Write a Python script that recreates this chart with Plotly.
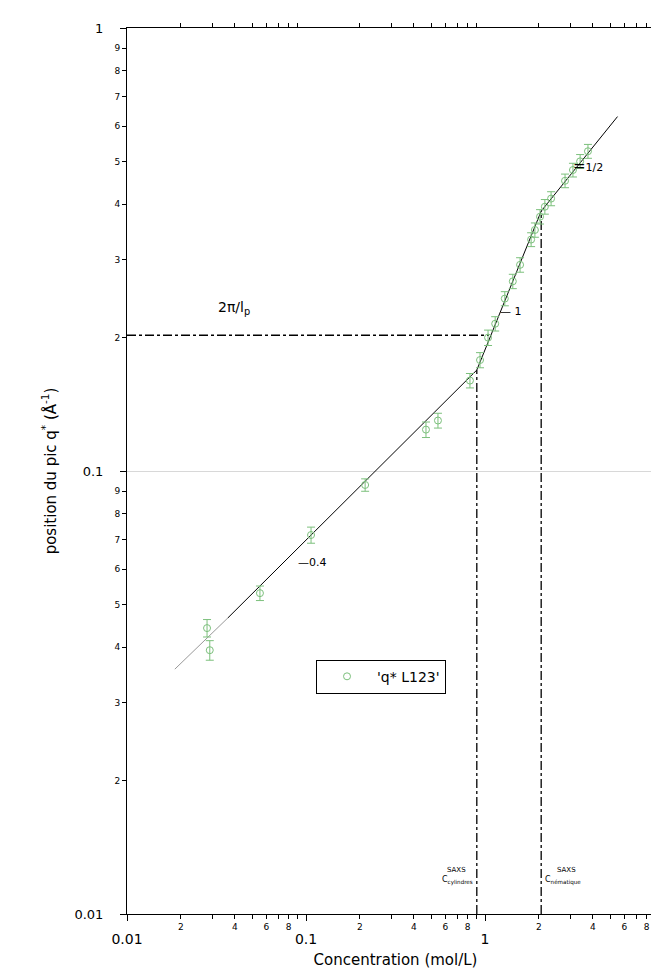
import math
import plotly.graph_objects as go

# ---- data ----
conc = [0.028, 0.029, 0.0553, 0.1067, 0.214, 0.468, 0.546, 0.824, 0.938, 1.04, 1.14,
        1.29, 1.43, 1.57, 1.81, 1.90, 2.03, 2.16, 2.34, 2.80, 3.10, 3.40, 3.76]
q_star = [0.0442, 0.0394, 0.053, 0.0717, 0.093, 0.124, 0.130, 0.160, 0.178, 0.200, 0.215,
          0.245, 0.268, 0.292, 0.333, 0.350, 0.375, 0.395, 0.412, 0.452, 0.478, 0.500, 0.527]
q_err = [0.002, 0.002, 0.002, 0.003, 0.003, 0.005, 0.005, 0.006, 0.007, 0.008, 0.008,
         0.009, 0.01, 0.011, 0.012, 0.013, 0.014, 0.015, 0.015, 0.016, 0.017, 0.018, 0.019]

fit_c = [0.0366, 0.90, 2.06, 5.5]
fit_q = [0.0466, 0.169, 0.386, 0.631]
ext_c = [0.0185, 0.0366]
ext_q = [0.0357, 0.0466]

lp_c = [0.01, 1.05]
lp_q = [0.2025, 0.2025]
ccyl_c = [0.90, 0.90]
ccyl_q = [0.01, 0.169]
chex_c = [2.06, 2.06]
chex_q = [0.01, 0.386]

x_minor_vals = [m * d for d in (0.01, 0.1, 1) for m in range(2, 10)]
x_minor_text = [str(m) if m in (2, 4, 6, 8) else "" for d in (0.01, 0.1, 1) for m in range(2, 10)]
x_major_vals = [0.01, 0.1, 1, 10]
x_major_text = ["0.01", "0.1", "1", "10"]
y_minor_vals = [m * d for d in (0.01, 0.1) for m in range(2, 10)]
y_minor_text = [str(m) for d in (0.01, 0.1) for m in range(2, 10)]
y_major_vals = [0.01, 0.1, 1]
y_major_text = ["0.01", "0.1", "1"]

FONT = "DejaVu Sans"
GREEN = "#7cc07c"

fig = go.Figure()
fig.add_trace(go.Scatter(x=ext_c, y=ext_q, mode="lines", line=dict(color="#999", width=1),
                         showlegend=False, hoverinfo="skip"))
fig.add_trace(go.Scatter(x=fit_c, y=fit_q, mode="lines", line=dict(color="black", width=1),
                         showlegend=False, hoverinfo="skip"))
for cx, cy in ((lp_c, lp_q), (ccyl_c, ccyl_q), (chex_c, chex_q)):
    fig.add_trace(go.Scatter(x=cx, y=cy, mode="lines",
                             line=dict(color="black", width=1.3, dash="dashdot"),
                             showlegend=False, hoverinfo="skip"))
fig.add_trace(go.Scatter(x=conc, y=q_star, mode="markers", name="'q* L123'",
                         marker=dict(symbol="circle-open", size=7, color=GREEN, line=dict(width=1)),
                         error_y=dict(type="data", array=q_err, color=GREEN, thickness=1, width=4)))
# invisible trace for overlay axes
fig.add_trace(go.Scatter(x=[0.01], y=[0.01], xaxis="x2", yaxis="y2", mode="markers",
                         marker=dict(opacity=0), showlegend=False, hoverinfo="skip"))


def L(v):
    return math.log10(v)


ann = []
ann.append(dict(x=L(0.0396), y=L(0.233), text="2π/l<sub>p</sub>", showarrow=False,
                font=dict(family=FONT, size=14, color="black"), xref="x", yref="y"))
ann.append(dict(x=L(0.088), y=L(0.062), text="—0.4", showarrow=False, xanchor="left",
                font=dict(family=FONT, size=11, color="black"), xref="x", yref="y"))
ann.append(dict(x=L(1.18), y=L(0.2297), text="— 1", showarrow=False, xanchor="left",
                font=dict(family=FONT, size=11, color="black"), xref="x", yref="y"))
ann.append(dict(x=L(3.02), y=L(0.488), text="<span style='font-size:15px'>=</span>1/2", showarrow=False,
                xanchor="left", font=dict(family=FONT, size=11, color="black"), xref="x", yref="y"))
ann.append(dict(x=L(0.689), y=L(0.0126), text="SAXS", showarrow=False,
                font=dict(family=FONT, size=7, color="black"), xref="x", yref="y"))
ann.append(dict(x=L(0.88), y=L(0.0119), text="C<sub>cylindres</sub>", showarrow=False, xanchor="right",
                font=dict(family=FONT, size=8, color="black"), xref="x", yref="y"))
ann.append(dict(x=L(2.835), y=L(0.0126), text="SAXS", showarrow=False,
                font=dict(family=FONT, size=7, color="black"), xref="x", yref="y"))
ann.append(dict(x=L(2.12), y=L(0.0119), text="C<sub>nématique</sub>", showarrow=False, xanchor="left",
                font=dict(family=FONT, size=8, color="black"), xref="x", yref="y"))

fig.update_layout(
    width=659, height=976,
    margin=dict(l=119, r=3, t=20, b=70),
    paper_bgcolor="white", plot_bgcolor="white",
    font=dict(family=FONT, color="black"),
    annotations=ann,
    legend=dict(x=0.352, y=0.287, xanchor="left", yanchor="top", itemwidth=50,
                bordercolor="black", borderwidth=1, bgcolor="white",
                font=dict(family=FONT, size=14)),
    xaxis=dict(type="log", range=[-2, 1], tickmode="array", tickvals=x_minor_vals, ticktext=x_minor_text,
               tickfont=dict(size=9), ticks="outside", ticklen=4, tickcolor="black",
               showline=True, linecolor="black", linewidth=1, mirror="ticks",
               showgrid=False, zeroline=False, automargin=False),
    xaxis2=dict(type="log", range=[-2, 1], overlaying="x", anchor="y", side="bottom",
                tickmode="array", tickvals=x_major_vals, ticktext=x_major_text,
                tickfont=dict(size=14), ticks="outside", ticklen=6, tickcolor="black",
                ticklabelstandoff=6, ticklabeloverflow="allow",
                showline=False, showgrid=False, zeroline=False, automargin=False,
                title=dict(text="Concentration (mol/L)", font=dict(size=15), standoff=8)),
    yaxis=dict(type="log", range=[-2, 0], tickmode="array", tickvals=y_minor_vals, ticktext=y_minor_text,
               tickfont=dict(size=9), ticks="outside", ticklen=4, tickcolor="black",
               showline=True, linecolor="black", linewidth=1, mirror="ticks",
               showgrid=False, zeroline=False, automargin=False),
    yaxis2=dict(type="log", range=[-2, 0], overlaying="y", anchor="x", side="left",
                tickmode="array", tickvals=y_major_vals, ticktext=y_major_text,
                tickfont=dict(size=13), ticks="outside", ticklen=6, tickcolor="black",
                ticklabelstandoff=14, ticklabeloverflow="allow",
                showline=False, showgrid=True, gridcolor="#d8d8d8",
                zeroline=False, automargin=False,
                title=dict(text="position du pic q<sup>*</sup> (Å<sup>-1</sup>)", font=dict(size=15), standoff=14)),
)

fig.write_html("out.html")
